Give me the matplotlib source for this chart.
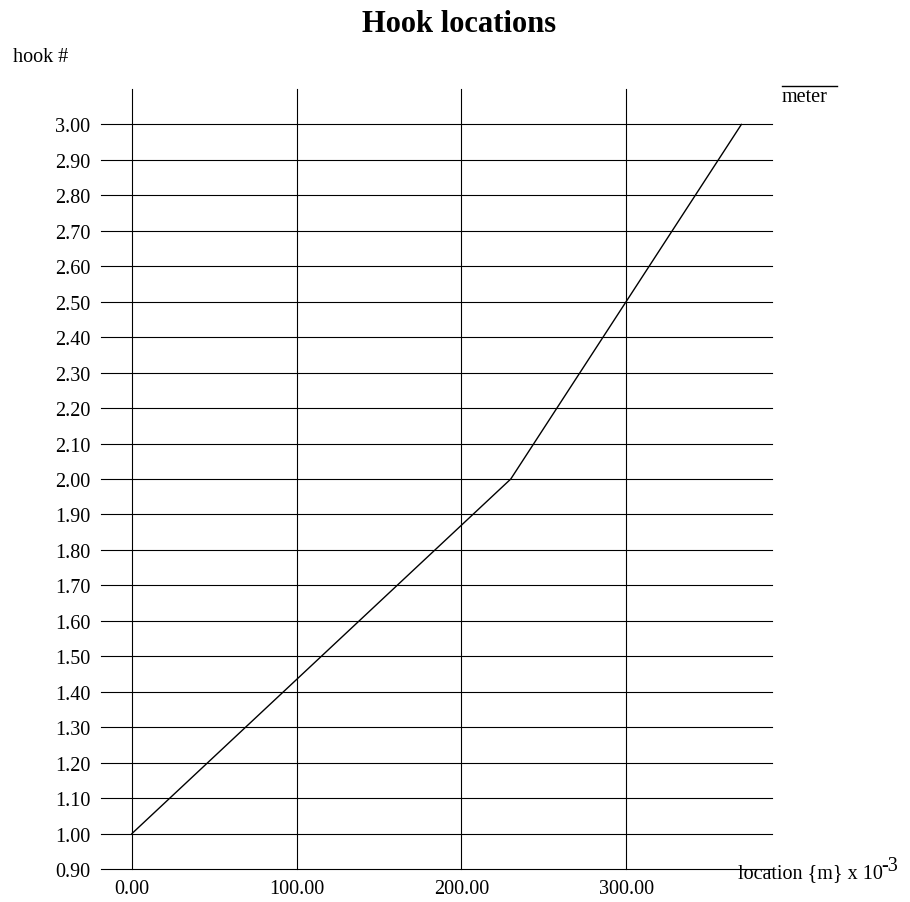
import numpy as np
import matplotlib
matplotlib.use("Agg")
import matplotlib.pyplot as plt
from matplotlib.lines import Line2D

plt.rcParams['font.family'] = ['Liberation Serif', 'DejaVu Serif']

# hook positions (x in 1e-3 m) vs hook number
location = [0.0, 230.0, 370.0]
hook = [1.0, 2.0, 3.0]

x_ticks = [0, 100, 200, 300]
y_ticks = [0.9 + 0.1 * i for i in range(22)]

W, H = 910, 903
fig = plt.figure(figsize=(W / 100, H / 100), dpi=100)
ax = fig.add_axes([101 / W, 33 / H, (772 - 101) / W, (870 - 90) / H])

ax.set_xlim(-18.8, 388.6)
ax.set_ylim(0.9, 3.1)

# grid: horizontal lines at each y tick, vertical at each x tick
for y in y_ticks:
    ax.axhline(y, color='black', lw=0.8, clip_on=False)
for x in x_ticks:
    ax.axvline(x, color='black', lw=0.8, clip_on=False)

ax.plot(location, hook, color='black', lw=1.0)

for s in ax.spines.values():
    s.set_visible(False)
ax.set_xticks(x_ticks)
ax.set_xticklabels([f"{v:.2f}" for v in x_ticks])
ax.set_yticks(y_ticks)
ax.set_yticklabels([f"{v:.2f}" for v in y_ticks])
ax.tick_params(axis='both', length=0, labelsize=14.5)
ax.tick_params(axis='y', pad=7.5)
ax.tick_params(axis='x', pad=7.5)

fig.text(0.505, 1 - 25 / H, "Hook locations", ha='center', va='center',
         fontsize=22, fontweight='bold')
fig.text(13 / W, 1 - 57 / H, "hook #", ha='left', va='center', fontsize=14.5)
fig.text(782 / W, 1 - 97 / H, "meter", ha='left', va='center', fontsize=14.5)
# overline above the unit
fig.add_artist(Line2D([782 / W, 837 / W], [1 - 86.5 / H, 1 - 86.5 / H],
                      color='black', lw=1.0))

xl = fig.text(738 / W, 1 - 874 / H, "location {m} x 10", ha='left',
              va='center', fontsize=14.5)
fig.canvas.draw()
bb = xl.get_window_extent()
fig.text((bb.x1 - 2) / W, 1 - 867 / H, "-3", ha='left', va='center',
         fontsize=14.5)

fig.savefig("out.png", dpi=100)
